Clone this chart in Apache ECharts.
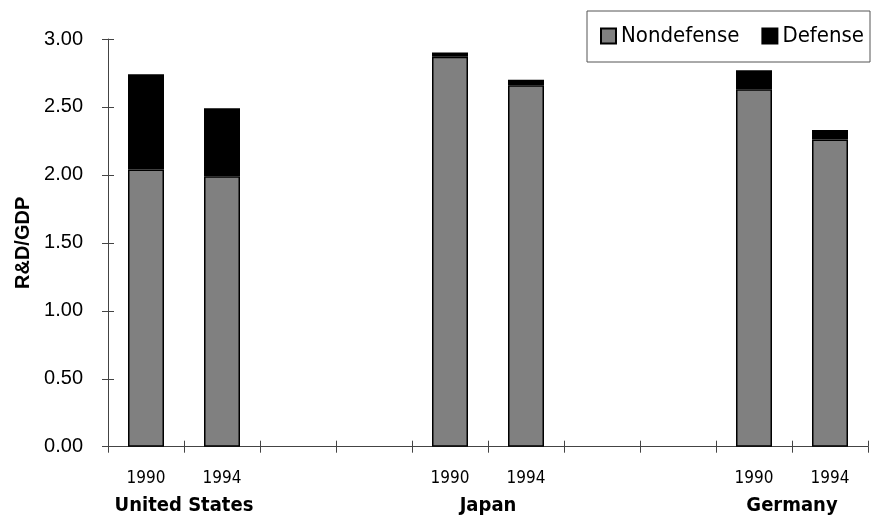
<!DOCTYPE html>
<html>
<head>
<meta charset="utf-8">
<script src="https://cdn.jsdelivr.net/npm/echarts@6/dist/echarts.min.js"></script>
<style>
  html, body { margin: 0; padding: 0; background: #fff; }
  #chart { width: 874px; height: 521px; }
</style>
</head>
<body>
<div id="chart"></div>
<script>
// R&D spending as a share of GDP, split into nondefense and defense
const yearLabels = ['1990', '1994', '', '', '1990', '1994', '', '', '1990', '1994'];
const countryLabels = ['United States', '', 'Japan', '', 'Germany'];
const nondefense = [2.04, 1.99, null, null, 2.87, 2.66, null, null, 2.63, 2.26];
const defense = [0.70, 0.50, null, null, 0.03, 0.04, null, null, 0.14, 0.07];
const yTicks = { min: 0, max: 3, interval: 0.5 };

const NARROW = '"Liberation Sans Narrow", "Arial Narrow", "DejaVu Sans Condensed", sans-serif';
const SANS = '"Liberation Sans", Arial, sans-serif';
const lineColor = '#444';

const chart = echarts.init(document.getElementById('chart'), null, { renderer: 'canvas' });

chart.setOption({
  animation: false,
  backgroundColor: '#fff',
  grid: { left: 108, right: 6, top: 39, bottom: 74.3, containLabel: false },
  legend: {
    data: ['Nondefense', 'Defense'],
    right: 4,
    top: 11,
    orient: 'horizontal',
    icon: 'rect',
    itemWidth: 15,
    itemHeight: 15,
    itemGap: 22,
    padding: [14, 6, 15, 13],
    borderColor: '#555',
    borderWidth: 1,
    textStyle: { fontFamily: NARROW, fontSize: 22, color: '#000' }
  },
  xAxis: [
    {
      type: 'category',
      data: yearLabels,
      position: 'bottom',
      boundaryGap: true,
      axisLine: { show: true, lineStyle: { color: lineColor, width: 1 } },
      axisTick: { show: true, inside: false, length: 6, lineStyle: { color: lineColor } },
      axisLabel: { show: true, interval: 0, margin: 23, fontFamily: NARROW, fontSize: 17, color: '#000' }
    },
    {
      type: 'category',
      data: yearLabels,
      position: 'bottom',
      boundaryGap: true,
      axisLine: { show: false },
      axisTick: { show: true, inside: true, length: 6, lineStyle: { color: lineColor } },
      axisLabel: { show: false }
    },
    {
      type: 'category',
      data: countryLabels,
      position: 'bottom',
      boundaryGap: true,
      axisLine: { show: false },
      axisTick: { show: false },
      axisLabel: { show: true, interval: 0, margin: 49, fontFamily: NARROW, fontWeight: 'bold', fontSize: 20, color: '#000' }
    }
  ],
  yAxis: [
    {
      type: 'value',
      min: yTicks.min,
      max: yTicks.max,
      interval: yTicks.interval,
      name: 'R&D/GDP',
      nameLocation: 'middle',
      nameGap: 74,
      nameTextStyle: { fontFamily: SANS, fontWeight: 'bold', fontSize: 20, color: '#000' },
      axisLine: { show: true, lineStyle: { color: lineColor, width: 1 } },
      axisTick: { show: true, inside: false, length: 6, lineStyle: { color: lineColor } },
      axisLabel: { margin: 25, fontFamily: SANS, fontSize: 20, color: '#000', formatter: v => v.toFixed(2) },
      splitLine: { show: false }
    },
    {
      type: 'value',
      min: yTicks.min,
      max: yTicks.max,
      interval: yTicks.interval,
      position: 'left',
      axisLine: { show: false },
      axisTick: { show: true, inside: true, length: 6, lineStyle: { color: lineColor } },
      axisLabel: { show: false },
      splitLine: { show: false }
    }
  ],
  series: [
    {
      name: 'Nondefense',
      type: 'bar',
      stack: 'rd',
      data: nondefense,
      barWidth: 36,
      itemStyle: { color: '#808080', borderColor: '#000', borderWidth: 1.5 }
    },
    {
      name: 'Defense',
      type: 'bar',
      stack: 'rd',
      data: defense,
      barWidth: 36,
      itemStyle: { color: '#000', borderColor: '#000', borderWidth: 1.5 }
    }
  ]
});
</script>
</body>
</html>
